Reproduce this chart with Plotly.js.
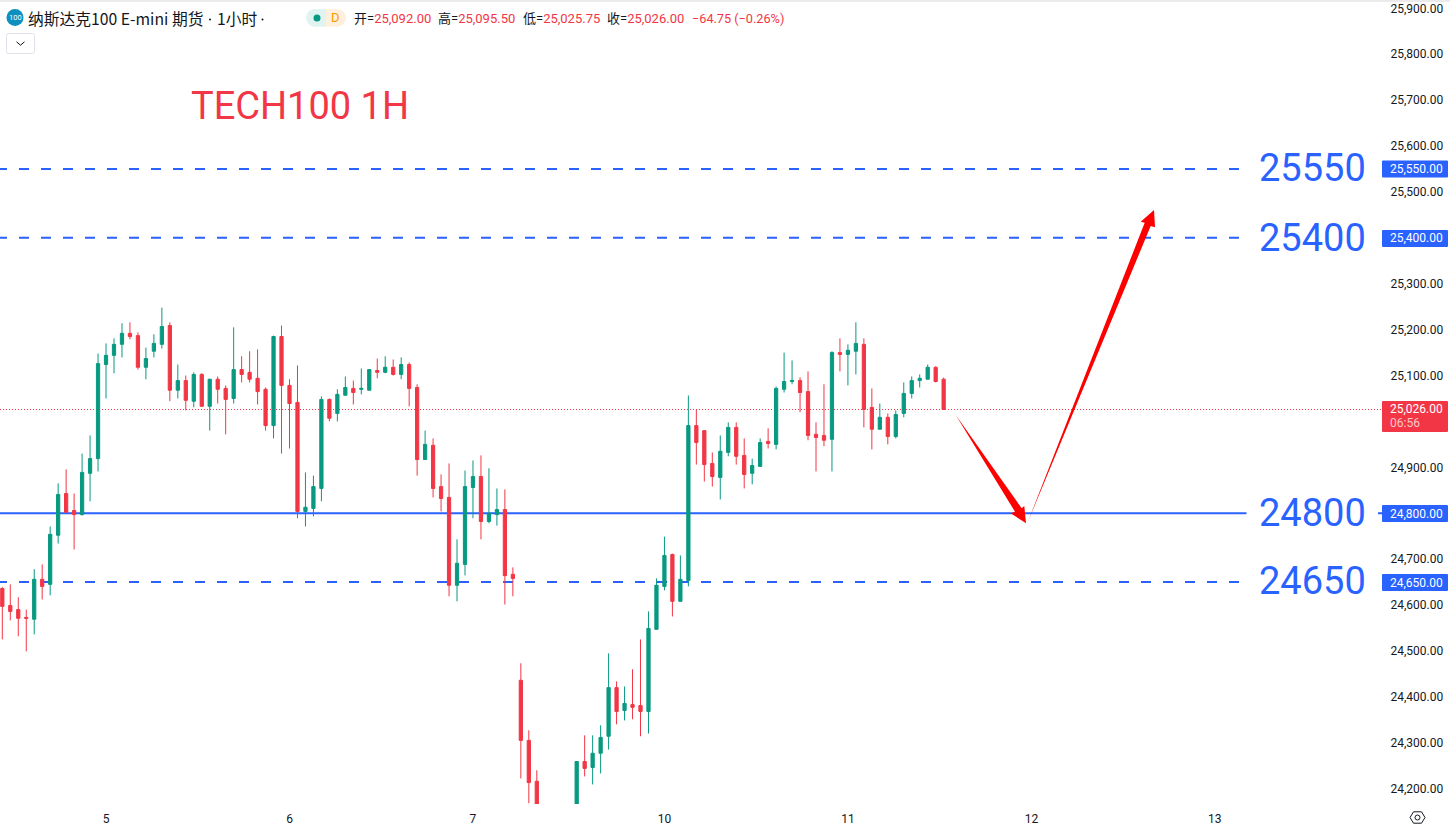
<!DOCTYPE html>
<html><head><meta charset="utf-8">
<script src="https://cdn.plot.ly/plotly-3.0.1.min.js"></script>
<style>html,body{margin:0;padding:0;background:#fff;overflow:hidden}#c{width:1450px;height:827px}</style>
</head><body><div id="c"></div>
<script>
// Candles, one row per hour. Bars 68-71 lie below the visible range.
const opens = [24636,24599,24590,24573,24569,24656,24645,24752,24843,24806,24797,24887,24919,25124,25144,25168,25192,25187,25118,25153,25168,25209,25068,25089,25044,25102.5,25033,25092,25072,25050,25113,25107,
25094,25070,24991,25185,25078.5,25041.5,24804,24810.5,24854,25048,25017.5,25057,25072,25070,25068,25111,25107,25118,25102.5,25124,25074,24917,24948,24858,24834.5,24643,24688.5,24856,24880,24782,
24797,24808,24667,24436,24305,24216,null,null,null,null,24130,24259,24246,24277,24314,24420,24370,24383,24381,24368,24547,24640.5,24710,24608,24653.5,
24991,24980,24908.5,24878,24932.5,24987,24926,24887,24902,24956.5,24950,25070,25087,25089,25065,24972,24969.5,24961,25150,25146,25153,25168,25030.5,24983,25009,24967,25017.5,25061,25089,25092,25118,25092];
const highs = [24639,24645,24617,24590,24678,24688.5,24771,24865,24895.5,24843,24930,24969.5,25148,25170,25181,25214,25216,25194,25161,25190,25248,25216,25124,25100,25107,25105,25092,25098,25078.5,25205,25142,25153,
25157,25074,25187,25209,25092,25122,24889,24882,25054.5,25050,25070,25098,25089,25115.5,25113,25137,25142,25135,25139.5,25128.5,25081,24980,24963,24884.5,24908.5,24743,24893,24915,24926,24898,
24854,24852,24682,24473,24327,24240,null,null,null,null,24259,24316,24316,24338,24494.5,24433.5,24422.5,24460,24525,24586,24658,24749,24712,24708,25056.5,
25026,24980,24932.5,24969.5,24998,24998,24963,24919,24963,24985,25076,25150,25133,25096,25109,24998,25081,25153,25181,25168,25216,25181,25072,25039,25017.5,25024,25085,25098,25102.5,25124,25120,25095.5];
const lows = [24525,24566.5,24532,24499,24536,24612,24621,24734,24802,24721,24795,24826,24891,25050,25105,25139.5,25179,25113,25092,25139.5,25159,25044,25050,25024,25031,25033,24980,25039,24972,25039,25085,25085,
25037,24980,24963,24930,24941,24789,24771,24793,24826,25000,25000,25057,25037,25059,25068,25094,25105,25100,25092,25033,24882,24917,24834.5,24804,24619,24608,24664.5,24789,24743,24778,
24773,24601,24619,24222,24168,24110,null,null,null,null,24110,24226.5,24209,24233,24285,24340,24348.5,24351,24314,24320,24547,24632,24575,24608,24640.5,
24906,24869,24858,24830,24924,24906,24854,24863,24902,24941,24939,25063,25081,25020,24959,24891,24946,24891,25109,25078.5,25102.5,24987,24939,24983,24950,24963,25009,25050,25074,25092,25085,25025.75];
const closes = [24597,24586,24571,24571,24656,24640.5,24754,24841,24802,24797,24889,24919,25126,25144,25168,25192,25185,25118,25137,25170,25207,25068,25089,25046,25102.5,25033,25092,25070,25048,25113,25102.5,25092,
25065,24991,25185,25078.5,25039,24804,24813,24858,25048,25007,25059,25074,25063,25072,25113,25107,25118,25102.5,25124,25072,24917,24950,24854,24832,24643,24691,24858,24880,24782,24800,
24808,24664,24658,24305,24213,24130,null,null,null,null,24259,24244,24277,24311.5,24420,24368,24385.5,24377,24368,24549,24643,24708,24608,24656,24991,
24954,24906,24880,24935,24987,24924,24884.5,24904,24954,24952,25072,25087,25089,25063,24969.5,24965,24959,25150,25146,25155,25170,25026,24983,25009,24967,25015,25061,25089,25094,25118,25087,25026];

const dayTickIndex = [13,36,59,83,106,129,152];
const dayTickLabels = ['5','6','7','10','11','12','13'];
const priceTicks = [25900,25800,25700,25600,25500,25300,25200,25100,24900,24700,24600,24500,24400,24300,24200];
const dashedLevels = [25550,25400,24650];
const solidLevels = [24800];
const lastPrice = 25026;
const levelLabels = [['25550',25550,168.5],['25400',25400,238],['24800',24800,512.5],['24650',24650,581]];

const UP='#089981', DOWN='#F23645', BLUE='#2962FF', INK='#131722', ARROW='#FF0000';
const W=1382, H=804;
const px=x=>x/W, py=y=>1-y/H;
const pathOf=pts=>'M'+pts.map(p=>px(p[0])+','+py(p[1])).join(' L')+' Z';
const rect=(x0,y0,x1,y1,fill,layer)=>({type:'rect',xref:'paper',yref:'paper',x0:px(x0),x1:px(x1),y0:py(y0),y1:py(y1),fillcolor:fill,line:{width:0},layer:layer||'above'});
const circle=(cx,cy,r,fill)=>({type:'circle',xref:'paper',yref:'paper',x0:px(cx-r),x1:px(cx+r),y0:py(cy+r),y1:py(cy-r),fillcolor:fill,line:{width:0},layer:'above'});
const rrect=(x0,y0,x1,y1,r)=>`M${px(x0+r)},${py(y0)} L${px(x1-r)},${py(y0)} Q${px(x1)},${py(y0)} ${px(x1)},${py(y0+r)} L${px(x1)},${py(y1-r)} Q${px(x1)},${py(y1)} ${px(x1-r)},${py(y1)} L${px(x0+r)},${py(y1)} Q${px(x0)},${py(y1)} ${px(x0)},${py(y1-r)} L${px(x0)},${py(y0+r)} Q${px(x0)},${py(y0)} ${px(x0+r)},${py(y0)} Z`;
const pathShape=(d,fill,stroke,w)=>({type:'path',xref:'paper',yref:'paper',path:d,fillcolor:fill||'rgba(0,0,0,0)',line:{color:stroke||'rgba(0,0,0,0)',width:w||0},layer:'above'});

const shapes=[];
dashedLevels.forEach(v=>shapes.push({type:'line',xref:'paper',yref:'y',x0:px(-3),x1:px(1382),y0:v,y1:v,line:{color:BLUE,width:2,dash:'10px,12px'},layer:'below'}));
solidLevels.forEach(v=>shapes.push({type:'line',xref:'paper',yref:'y',x0:0,x1:1,y0:v,y1:v,line:{color:BLUE,width:2},layer:'below'}));
shapes.push({type:'line',xref:'paper',yref:'y',x0:0,x1:1,y0:lastPrice,y1:lastPrice,line:{color:DOWN,width:1,dash:'1px,2px'},layer:'below'});
levelLabels.forEach(l=>shapes.push(rect(1246.5,l[2]-18,1378,l[2]+18,'#ffffff','below')));
// hand-drawn forecast arrows
shapes.push(pathShape(pathOf([[955.7,415],[1021.7,508.3],[1024.3,506],[1026,523.3],[1010.7,513.3],[1015,511.7]]),ARROW));
shapes.push(pathShape(pathOf([[1027.3,523.3],[1144.7,222.7],[1140.7,221.7],[1154,210],[1155,227.3],[1150.7,226]]),ARROW));
// price tags
shapes.push(pathShape(rrect(1382,160.5,1448,177.5,1),BLUE));
shapes.push(pathShape(rrect(1382,230,1448,247,1),BLUE));
shapes.push(pathShape(rrect(1382,505,1448,522,1),BLUE));
shapes.push(pathShape(rrect(1382,574,1448,591,1),BLUE));
shapes.push(pathShape(rrect(1382,401,1448,432,1),DOWN));
// header furniture
shapes.push(rect(0,0,1450,2,'#EBEBEB'));
shapes.push(circle(15,17.5,8.5,'#0D8FBF'));
shapes.push(circle(314.8,17.85,8.85,'#E0F3F0'));
shapes.push(rect(314.8,9,326,26.7,'#E0F3F0'));
shapes.push(circle(337.2,17.85,8.85,'#FFF0DD'));
shapes.push(rect(326,9,337.2,26.7,'#FFF0DD'));
shapes.push(circle(317,18,3.5,UP));
shapes.push(circle(210,19.5,1,INK));
shapes.push(circle(262.5,19.5,1,INK));
shapes.push(pathShape(rrect(6.5,33.5,34.5,53.5,2),'#ffffff','#DFE2E8',1));
shapes.push({type:'path',xref:'paper',yref:'paper',path:`M${px(16.5)},${py(41.8)} L${px(20.5)},${py(45.2)} L${px(24.5)},${py(41.8)}`,line:{color:INK,width:1},layer:'above'});
// settings glyph
shapes.push(pathShape(pathOf([[1410,817.5],[1413.5,811.8],[1421.5,811.8],[1425,817.5],[1421.5,823.2],[1413.5,823.2]]),null,INK,1));
shapes.push({type:'circle',xref:'paper',yref:'paper',x0:px(1415),x1:px(1420),y0:py(820),y1:py(815),line:{color:INK,width:1},layer:'above'});

const note=(text,x,y,font,color,size,anchor,extra)=>Object.assign({xref:'paper',yref:'paper',x:px(x),y:py(y),text,showarrow:false,xanchor:anchor||'left',yanchor:'middle',font:{family:font,color,size},borderpad:0,borderwidth:0},extra||{});
const CJK='"Noto Sans CJK SC", Roboto, sans-serif', LAT='Roboto, sans-serif', MIX='Roboto, "Noto Sans CJK SC", sans-serif';
const red=s=>`<span style="color:${DOWN}">${s}</span>`;
const annotations=[
 note('TECH100 1H',191,106,LAT,DOWN,38),
 note('100',15,17.5,LAT,'#ffffff',7.5,'center'),
 note('纳斯达克100 E-mini 期货',27.5,18.5,CJK,INK,15.75),
 note('1小时',216.5,18.5,CJK,INK,15.75),
 note('D',335,18,LAT,'#FF9800',13,'center'),
 note('开='+red('25,092.00'),354,18.5,MIX,INK,13),
 note('高='+red('25,095.50'),438,18.5,MIX,INK,13),
 note('低='+red('25,025.75'),522.5,18.5,MIX,INK,13),
 note('收='+red('25,026.00'),606.5,18.5,MIX,INK,13),
 note('−64.75 (−0.26%)',691.5,18.5,MIX,DOWN,12.7),
 note('25,550.00',1416.5,169,LAT,'#ffffff',12,'center'),
 note('25,400.00',1416.5,238.5,LAT,'#ffffff',12,'center'),
 note('24,800.00',1416.5,513.5,LAT,'#ffffff',12,'center'),
 note('24,650.00',1416.5,582.5,LAT,'#ffffff',12,'center'),
 note('25,026.00',1416.5,408.8,LAT,'#ffffff',12,'center'),
 note('06:56',1390,422.5,LAT,'#FBC6CB',12,'left'),
].concat(levelLabels.map(l=>note(l[0],1312.5,l[2],LAT,BLUE,38,'center')));

const trace={type:'candlestick',x:opens.map((_,i)=>i),open:opens,high:highs,low:lows,close:closes,
 increasing:{line:{color:UP,width:1},fillcolor:UP},decreasing:{line:{color:DOWN,width:1},fillcolor:DOWN},
 whiskerwidth:0,hoverinfo:'skip',showlegend:false};

const layout={width:1450,height:827,margin:{l:0,r:68,t:0,b:23,pad:0},paper_bgcolor:'#fff',plot_bgcolor:'#fff',
 showlegend:false,boxgap:0.42,dragmode:false,shapes,annotations,
 xaxis:{range:[-0.29,172.95],rangeslider:{visible:false},showgrid:false,zeroline:false,showline:false,tickmode:'array',tickvals:dayTickIndex,ticktext:dayTickLabels,ticks:'outside',ticklen:4,tickcolor:'rgba(0,0,0,0)',tickfont:{family:LAT,size:12,color:INK}},
 yaxis:{side:'right',range:[24166.4,25918.3],showgrid:false,zeroline:false,showline:false,tickmode:'array',tickvals:priceTicks,tickformat:',.2f',ticks:'outside',ticklen:5,tickcolor:'rgba(0,0,0,0)',tickfont:{family:LAT,size:12,color:INK}}};
Plotly.newPlot('c',[trace],layout,{displayModeBar:false,staticPlot:true});
</script></body></html>
